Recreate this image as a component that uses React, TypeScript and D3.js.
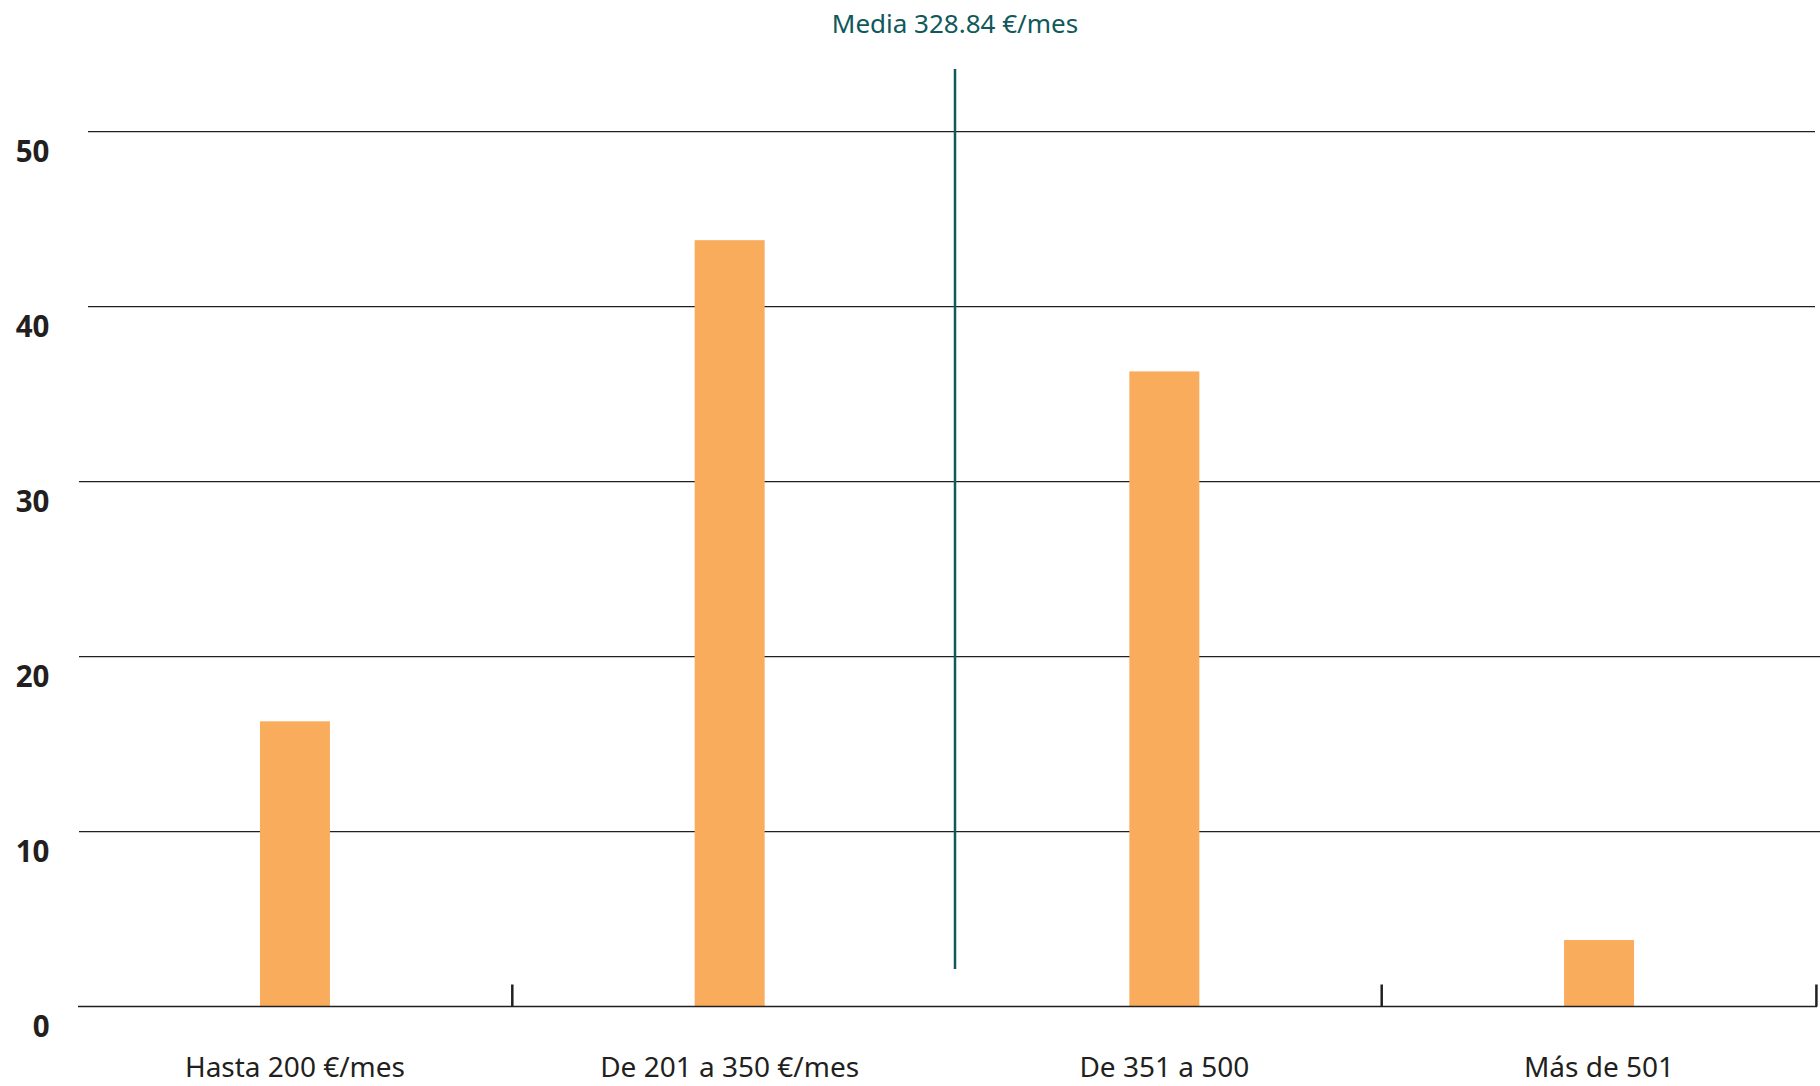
import React from "react";
import * as d3 from "d3";

const categories = ["Hasta 200 €/mes", "De 201 a 350 €/mes", "De 351 a 500", "Más de 501"];
const values = [16.3, 43.8, 36.3, 3.8];
const yTicks = [0, 10, 20, 30, 40, 50];
const meanLabel = "Media 328.84 €/mes";
const tickBoundaries = [1, 3, 4];

const W = 1820;
const H = 1086;
const FONT = "'Noto Sans', 'Open Sans', sans-serif";
const BAR = "#f9ad5c";
const INK = "#231f20";
const TEAL = "#0f585c";

export default function App() {
  const x = d3.scaleBand<string>().domain(categories).range([77.6, 1816.4]).padding(0);
  const y = d3.scaleLinear().domain([0, 50]).range([1006.5, 131.7]);
  const bw = x.bandwidth();
  const barW = 70;
  const boundary = (i: number) => x.range()[0] + i * x.step();
  const meanX = boundary(2) + 8;

  return (
    <svg width={W} height={H} style={{ position: "absolute", left: 0, top: 0, background: "#fff" }}>
      {yTicks.filter((t) => t > 0).map((t) => (
        <line
          key={t}
          x1={t >= 40 ? 88 : 79}
          x2={t >= 40 ? 1815 : 1820}
          y1={y(t)}
          y2={y(t)}
          stroke={INK}
          strokeWidth={1.3}
        />
      ))}
      {yTicks.map((t) => (
        <text
          key={"l" + t}
          x={49.5}
          y={y(t) + 30}
          textAnchor="end"
          fontFamily={FONT}
          fontWeight={700}
          fontSize={29.5}
          fill={INK}
        >
          {t}
        </text>
      ))}
      {categories.map((c, i) => (
        <rect
          key={c}
          x={(x(c) as number) + (bw - barW) / 2}
          y={y(values[i])}
          width={barW}
          height={y(0) - y(values[i])}
          fill={BAR}
        />
      ))}
      <line x1={78} x2={1817} y1={y(0)} y2={y(0)} stroke={INK} strokeWidth={1.5} />
      {tickBoundaries.map((b) => (
        <line
          key={"t" + b}
          x1={boundary(b)}
          x2={boundary(b)}
          y1={y(0)}
          y2={y(0) - 22}
          stroke={INK}
          strokeWidth={2.5}
        />
      ))}
      {categories.map((c) => (
        <text
          key={"x" + c}
          x={(x(c) as number) + bw / 2}
          y={1077}
          textAnchor="middle"
          fontFamily={FONT}
          fontSize={28}
          fill={INK}
        >
          {c}
        </text>
      ))}
      <line x1={meanX} x2={meanX} y1={y(53.58)} y2={y(2.14)} stroke={TEAL} strokeWidth={2.5} />
      <text x={meanX} y={33.3} textAnchor="middle" fontFamily={FONT} fontSize={26} fill={TEAL}>
        {meanLabel}
      </text>
    </svg>
  );
}
